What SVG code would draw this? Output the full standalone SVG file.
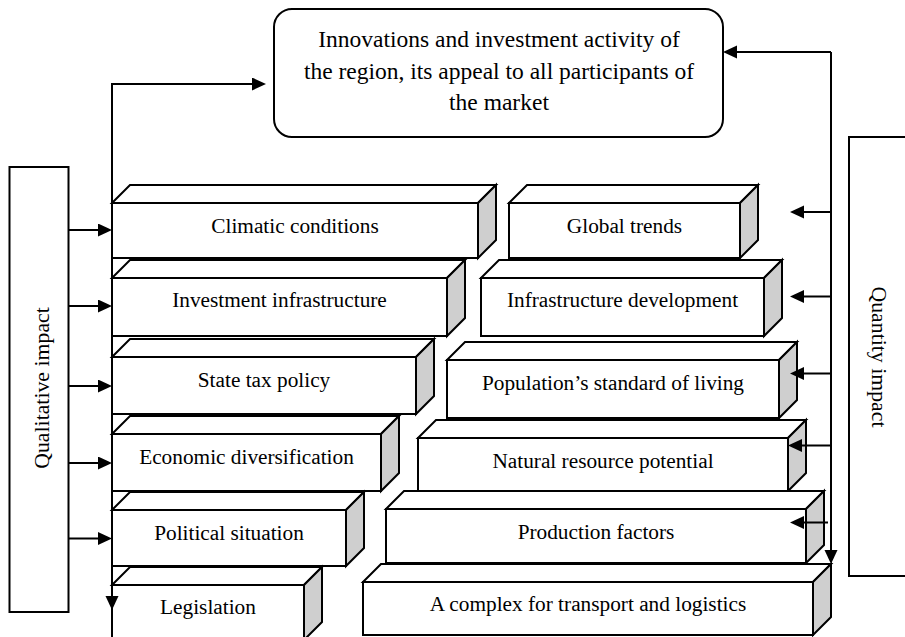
<svg xmlns="http://www.w3.org/2000/svg" width="905" height="637" viewBox="0 0 905 637">
<defs>
<style>
.f{fill:#fff;stroke:#000;stroke-width:2;stroke-linejoin:miter}
.s{fill:#cfcfcf;stroke:#000;stroke-width:2}
.t{font-family:"Liberation Serif","Times New Roman",serif;font-size:21.3px;fill:#000;text-anchor:middle}
.big{font-size:23.5px}
.side{font-size:21.8px}
.c{fill:none;stroke:#000;stroke-width:2}
</style>
<marker id="ah" markerUnits="userSpaceOnUse" markerWidth="15" markerHeight="14" refX="11" refY="6.5" orient="auto" viewBox="0 0 15 14">
<path d="M0,0 L14,6.5 L0,13 Z" fill="#000"/>
</marker>
</defs>
<rect x="0" y="0" width="905" height="637" fill="#fff"/>

<g id="top-node">
<rect class="f" x="274" y="9" width="449" height="128" rx="18"/>
<text class="t big" x="499" y="47">Innovations and investment activity of</text>
<text class="t big" x="499" y="79">the region, its appeal to all participants of</text>
<text class="t big" x="499" y="110">the market</text>
</g>

<g id="qualitative">
<rect class="f" x="9.5" y="167" width="59" height="445"/>
<text class="t side" transform="translate(49,388) rotate(-90)">Qualitative impact</text>
</g>

<g id="quantity">
<rect class="f" x="849" y="137" width="70" height="439"/>
<text class="t side" transform="translate(872,357) rotate(90)">Quantity impact</text>
</g>

<g id="climatic">
<polygon class="f" points="112,203 130,185 496,185 478,203"/>
<polygon class="s" points="478,203 496,185 496,240 478,258"/>
<rect class="f" x="112" y="203" width="366" height="55"/>
<text class="t" x="295" y="233">Climatic conditions</text>
</g>
<g id="global">
<polygon class="f" points="509,203 527,185 758,185 740,203"/>
<polygon class="s" points="740,203 758,185 758,240 740,258"/>
<rect class="f" x="509" y="203" width="231" height="55"/>
<text class="t" x="624.5" y="233">Global trends</text>
</g>

<g id="investment">
<polygon class="f" points="112,278 130,260 465,260 447,278"/>
<polygon class="s" points="447,278 465,260 465,318 447,336"/>
<rect class="f" x="112" y="278" width="335" height="58"/>
<text class="t" x="279.5" y="307">Investment infrastructure</text>
</g>
<g id="infra-dev">
<polygon class="f" points="481,278 499,260 782,260 764,278"/>
<polygon class="s" points="764,278 782,260 782,318 764,336"/>
<rect class="f" x="481" y="278" width="283" height="58"/>
<text class="t" x="622.5" y="307">Infrastructure development</text>
</g>

<g id="state-tax">
<polygon class="f" points="112,357 130,339 434,339 416,357"/>
<polygon class="s" points="416,357 434,339 434,396 416,414"/>
<rect class="f" x="112" y="357" width="304" height="57"/>
<text class="t" x="264" y="387">State tax policy</text>
</g>
<g id="population">
<polygon class="f" points="447,360 465,342 797,342 779,360"/>
<polygon class="s" points="779,360 797,342 797,400 779,418"/>
<rect class="f" x="447" y="360" width="332" height="58"/>
<text class="t" x="613" y="390">Population’s standard of living</text>
</g>

<g id="economic">
<polygon class="f" points="112,434 130,416 399,416 381,434"/>
<polygon class="s" points="381,434 399,416 399,473 381,491"/>
<rect class="f" x="112" y="434" width="269" height="57"/>
<text class="t" x="246.5" y="463.5">Economic diversification</text>
</g>
<g id="natural">
<polygon class="f" points="418,438 436,420 806,420 788,438"/>
<polygon class="s" points="788,438 806,420 806,473 788,491"/>
<rect class="f" x="418" y="438" width="370" height="53"/>
<text class="t" x="603" y="467.5">Natural resource potential</text>
</g>

<g id="political">
<polygon class="f" points="112,510 130,492 364,492 346,510"/>
<polygon class="s" points="346,510 364,492 364,548 346,566"/>
<rect class="f" x="112" y="510" width="234" height="56"/>
<text class="t" x="229" y="540">Political situation</text>
</g>
<g id="production">
<polygon class="f" points="386,509 404,491 824,491 806,509"/>
<polygon class="s" points="806,509 824,491 824,545 806,563"/>
<rect class="f" x="386" y="509" width="420" height="54"/>
<text class="t" x="596" y="538.5">Production factors</text>
</g>

<g id="legislation">
<polygon class="f" points="112,585 130,567 322,567 304,585"/>
<polygon class="s" points="304,585 322,567 322,622 304,640"/>
<rect class="f" x="112" y="585" width="192" height="60"/>
<text class="t" x="208" y="614">Legislation</text>
</g>
<g id="transport">
<polygon class="f" points="363,582 381,564 831,564 813,582"/>
<polygon class="s" points="813,582 831,564 831,617 813,635"/>
<rect class="f" x="363" y="582" width="450" height="53"/>
<text class="t" x="588" y="611">A complex for transport and logistics</text>
</g>

<g id="connectors">
<path class="c" d="M112,640 V84 H263" marker-end="url(#ah)"/>
<path class="c" d="M112,590 V607" marker-end="url(#ah)"/>
<path class="c" d="M68,230 H109" marker-end="url(#ah)"/>
<path class="c" d="M68,306 H109" marker-end="url(#ah)"/>
<path class="c" d="M68,386 H109" marker-end="url(#ah)"/>
<path class="c" d="M68,463 H109" marker-end="url(#ah)"/>
<path class="c" d="M68,538.5 H109" marker-end="url(#ah)"/>
<path class="c" d="M831,52 H726" marker-end="url(#ah)"/>
<path class="c" d="M831,52 V561" marker-end="url(#ah)"/>
<path class="c" d="M831,212 H793" marker-end="url(#ah)"/>
<path class="c" d="M831,296.5 H793" marker-end="url(#ah)"/>
<path class="c" d="M831,373.5 H793" marker-end="url(#ah)"/>
<path class="c" d="M831,445.5 H791" marker-end="url(#ah)"/>
<path class="c" d="M828,522.5 H793" marker-end="url(#ah)"/>
</g>
</svg>
